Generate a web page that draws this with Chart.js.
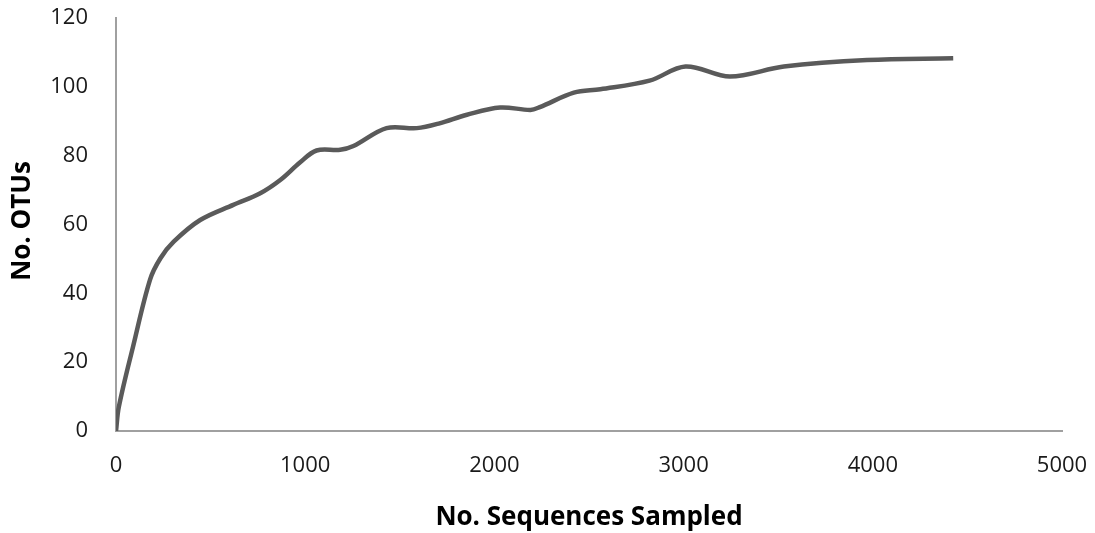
<!DOCTYPE html>
<html>
<head>
<meta charset="utf-8">
<script src="https://cdn.jsdelivr.net/npm/chart.js@4"></script>
<style>
  html, body { margin: 0; padding: 0; background: #fff; }
  #wrap { width: 1095px; height: 533px; }
</style>
</head>
<body>
<div id="wrap"><canvas id="rareChart"></canvas></div>
<script>
// values
const sequencesSampled = [0, 15, 90, 180, 235, 305, 445, 620, 760, 870, 972, 1060, 1185, 1255, 1430, 1590, 1710, 1855, 2030, 2190, 2240, 2420, 2560, 2820, 3010, 3245, 3530, 3970, 4425];
const otuCounts = [0, 7, 24.5, 44, 50.2, 55, 61.3, 65.7, 69, 73, 78, 81.5, 81.7, 82.8, 88, 88, 89.4, 91.9, 94, 93.3, 94.1, 98.3, 99.3, 101.8, 105.9, 103, 105.9, 107.8, 108.3];
const xTicks = [0, 1000, 2000, 3000, 4000, 5000];
const yTicks = [0, 20, 40, 60, 80, 100, 120];

const FONT = "'Open Sans', sans-serif";

// y title drawn by hand so it can sit where the original has it
const yTitlePlugin = {
  id: "yTitle",
  afterDraw(chart) {
    const ctx = chart.ctx;
    ctx.save();
    ctx.translate(23, 221);
    ctx.rotate(-Math.PI / 2);
    ctx.font = "bold 26px " + FONT;
    ctx.fillStyle = "#000";
    ctx.textAlign = "center";
    ctx.textBaseline = "middle";
    ctx.fillText("No. OTUs", 0, 0);
    ctx.restore();
  },
};

const points = sequencesSampled.map((x, i) => ({ x: x, y: otuCounts[i] }));

const ctx = document.getElementById("rareChart").getContext("2d");
const rareChart = new Chart(ctx, {
  type: "line",
  data: {
    datasets: [
      {
        label: "OTUs",
        data: points,
        borderColor: "#5a5a5a",
        borderWidth: 4.5,
        pointRadius: 0,
        tension: 0.35,
        fill: false,
      },
    ],
  },
  options: {
    responsive: true,
    maintainAspectRatio: false,
    animation: false,
    layout: { padding: { left: 0, right: 33, top: 18, bottom: 0 } },
    plugins: {
      legend: { display: false },
      tooltip: { enabled: false },
    },
    scales: {
      x: {
        type: "linear",
        min: 0,
        max: 5000,
        afterBuildTicks: (scale) => {
          scale.ticks = xTicks.map((v) => ({ value: v }));
        },
        afterFit: (scale) => {
          scale.height = 102;
          scale.paddingLeft = 0;
          scale.paddingRight = 0;
        },
        grid: { display: false, drawTicks: false },
        border: { display: true, color: "#a0a0a0", width: 2 },
        ticks: {
          padding: 22,
          color: "#1a1a1a",
          font: { family: FONT, size: 22 },
          maxRotation: 0,
          callback: (v) => String(v),
        },
        title: {
          display: true,
          text: "No. Sequences Sampled",
          color: "#000",
          font: { family: FONT, size: 26, weight: "bold" },
          padding: { top: 8, bottom: 0 },
        },
      },
      y: {
        min: 0,
        max: 120,
        afterBuildTicks: (scale) => {
          scale.ticks = yTicks.map((v) => ({ value: v }));
        },
        afterFit: (scale) => {
          scale.width = 116;
          scale.paddingTop = 0;
          scale.paddingBottom = 0;
        },
        grid: { display: false, drawTicks: false },
        border: { display: true, color: "#a0a0a0", width: 2 },
        ticks: {
          padding: 28,
          color: "#1a1a1a",
          font: { family: FONT, size: 22 },
          callback: (v) => String(v),
        },
      },
    },
  },
  plugins: [yTitlePlugin],
});
</script>
</body>
</html>
